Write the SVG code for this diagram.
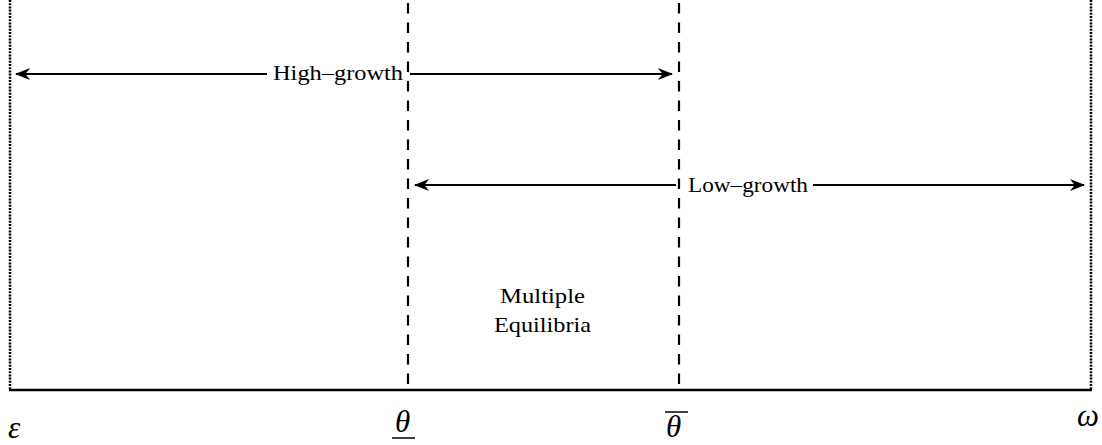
<svg xmlns="http://www.w3.org/2000/svg" width="1102" height="445" viewBox="0 0 1102 445">
<defs>
<marker id="ah" viewBox="0 0 15 12" refX="14" refY="6" markerWidth="15" markerHeight="12" markerUnits="userSpaceOnUse" orient="auto-start-reverse">
<path d="M0,0 L15,6 L0,12 L4.5,6 Z" fill="#000"/>
</marker>
<style>
.lbl{font-family:"Liberation Serif","DejaVu Serif",serif;font-size:21px;fill:#000}
.math{font-family:"Liberation Serif","DejaVu Serif",serif;font-style:italic;font-size:31px;fill:#000}
.dot{stroke:#000;stroke-width:2.5;stroke-dasharray:2 1.2;fill:none}
.dash{stroke:#000;stroke-width:2.2;stroke-dasharray:10.5 9;fill:none}
.arr{stroke:#000;stroke-width:2.2;fill:none}
</style>
</defs>
<rect width="1102" height="445" fill="#fff"/>
<g id="bounds">
<line class="dot" x1="10" y1="0" x2="10" y2="390"/>
<line class="dot" x1="1091" y1="0" x2="1091" y2="390"/>
<line class="dash" x1="408" y1="3" x2="408" y2="390"/>
<line class="dash" x1="679" y1="3" x2="679" y2="390"/>
<line x1="9" y1="390" x2="1092" y2="390" stroke="#000" stroke-width="2.4"/>
</g>
<g id="connectors">
<line class="arr" x1="267" y1="74" x2="16" y2="74" marker-end="url(#ah)"/>
<line class="arr" x1="410" y1="74" x2="672" y2="74" marker-end="url(#ah)"/>
<line class="arr" x1="676" y1="185" x2="415" y2="185" marker-end="url(#ah)"/>
<line class="arr" x1="813" y1="185" x2="1084" y2="185" marker-end="url(#ah)"/>
</g>
<g id="high-growth">
<text class="lbl" x="273" y="80" textLength="130" lengthAdjust="spacingAndGlyphs">High–growth</text>
</g>
<g id="low-growth">
<text class="lbl" x="688" y="192" textLength="120" lengthAdjust="spacingAndGlyphs">Low–growth</text>
</g>
<g id="multiple-equilibria">
<text class="lbl" x="500" y="303" textLength="85" lengthAdjust="spacingAndGlyphs">Multiple</text>
<text class="lbl" x="494" y="332" textLength="97" lengthAdjust="spacingAndGlyphs">Equilibria</text>
</g>
<g id="axis-labels">
<text class="math" x="8" y="438">ε</text>
<text class="math" x="395" y="432">θ</text>
<line x1="392" y1="438" x2="415" y2="438" stroke="#000" stroke-width="1.5"/>
<text class="math" x="666" y="437">θ</text>
<line x1="665" y1="412" x2="688" y2="412" stroke="#000" stroke-width="1.5"/>
<text class="math" x="1077" y="426">ω</text>
</g>
</svg>
